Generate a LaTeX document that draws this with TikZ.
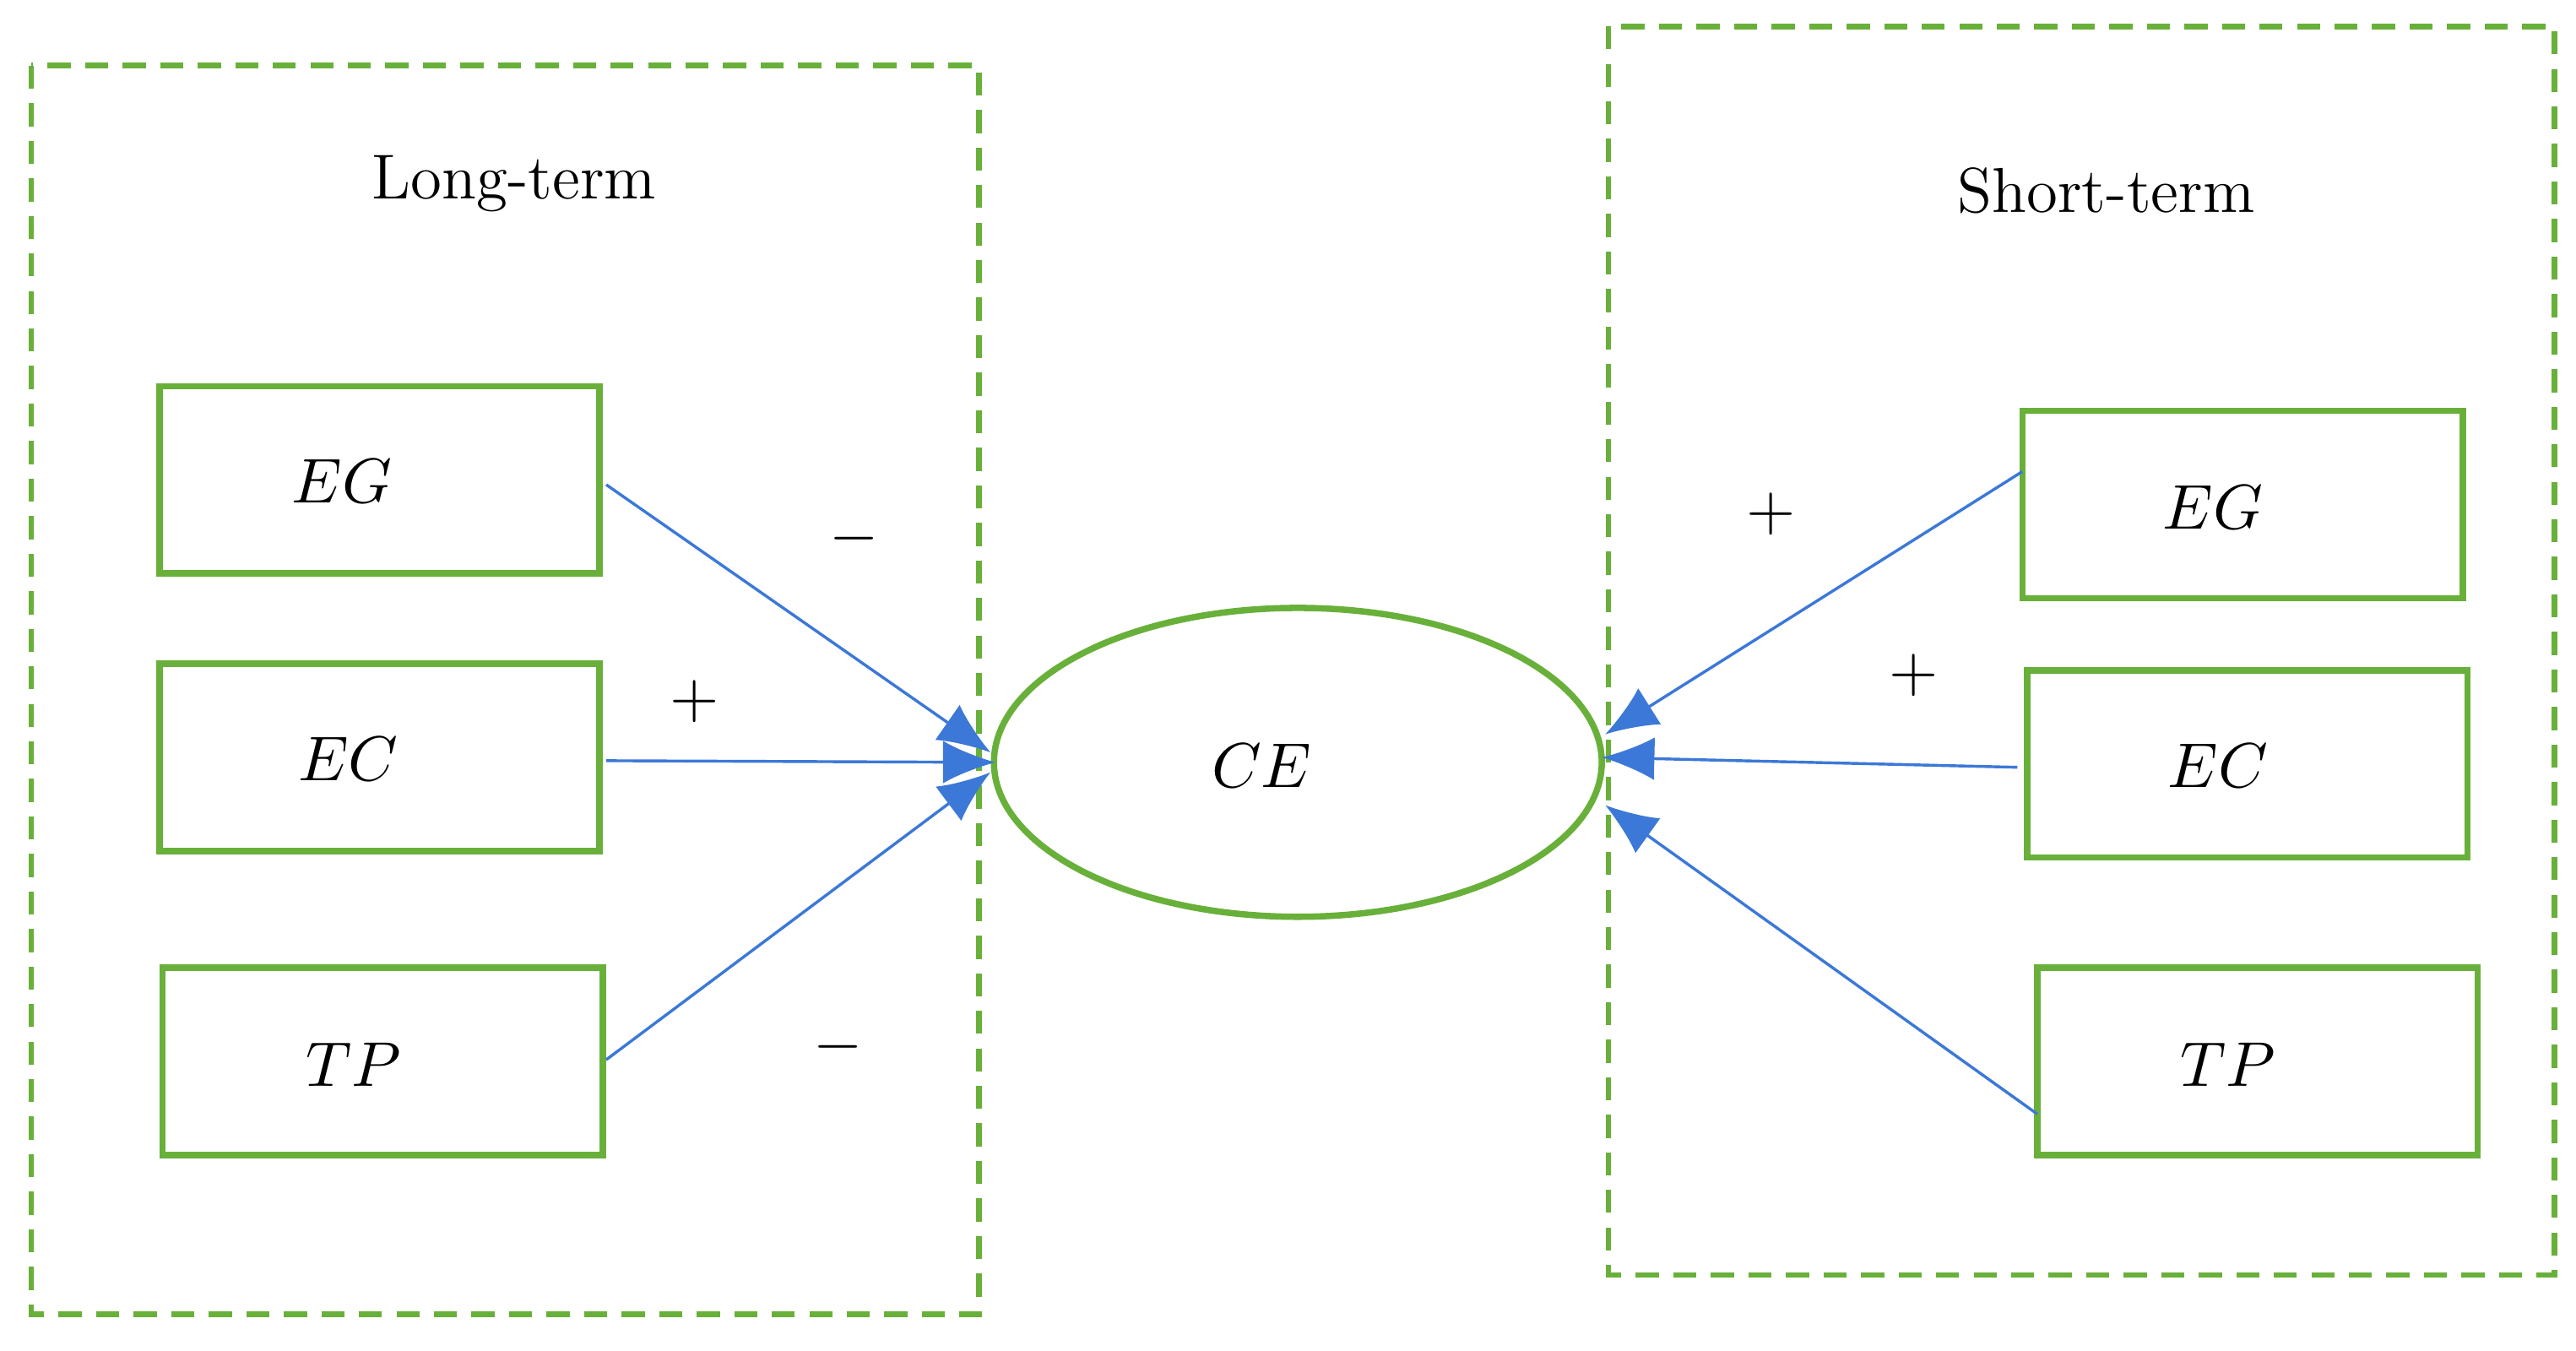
\documentclass[tikz,border=0pt]{standalone}
\usetikzlibrary{arrows.meta,shapes.geometric}
\begin{document}
\begin{tikzpicture}[x=0.1mm,y=-0.1mm,
  grn/.style={draw={rgb,255:red,104;green,176;blue,58},line width=1.1pt},
  box/.style={grn,rectangle,minimum width=26.8mm,minimum height=11.4mm},
  dbox/.style={draw={rgb,255:red,104;green,176;blue,58},line width=1.0pt,dash pattern=on 4pt off 2.5pt},
  arr/.style={draw={rgb,255:red,60;green,120;blue,215},line width=0.5pt,-{Latex[length=3.2mm,width=2.6mm]}},
  lab/.style={font=\fontsize{11}{13}\selectfont}]
\useasboundingbox (0,0) rectangle (1568,822);
\draw[dbox] (19,40) rectangle (596,800);
\draw[dbox] (979,16) rectangle (1555,776);
\node[lab] (lt) at (313,112) {Long-term};
\node[lab] (st) at (1282,116) {Short-term};
\node[box] (lEG) at (231,292) {};
\node[box] (lEC) at (231,461) {};
\node[box] (lTP) at (233,646) {};
\node[box] (rEG) at (1365,307) {};
\node[box] (rEC) at (1368,465) {};
\node[box] (rTP) at (1374,646) {};
\node[lab] (tlEG) at (208,293) {$EG$};
\node[lab] (tlEC) at (212,462) {$EC$};
\node[lab] (tlTP) at (215,648) {$TP$};
\node[lab] (trEG) at (1347,309) {$EG$};
\node[lab] (trEC) at (1350,466) {$EC$};
\node[lab] (trTP) at (1356,648) {$TP$};
\node[grn,ellipse,minimum width=37mm,minimum height=18.8mm] (CE) at (790,464) {};
\node[lab] (cet) at (768,466) {$CE$};
\coordinate (a1) at (603,458);
\coordinate (a2) at (606,464);
\coordinate (a3) at (603,470);
\coordinate (b1) at (977,447);
\coordinate (b2) at (975,461);
\coordinate (b3) at (977,490);
\coordinate (s1) at (369,295);
\coordinate (s2) at (369,463);
\coordinate (s3) at (369,645);
\coordinate (t1) at (1231,287);
\coordinate (t2) at (1228,467);
\coordinate (t3) at (1240,678);
\draw[arr] (s1) -- (a1);
\draw[arr] (s2) -- (a2);
\draw[arr] (s3) -- (a3);
\draw[arr] (t1) -- (b1);
\draw[arr] (t2) -- (b2);
\draw[arr] (t3) -- (b3);
\node[lab] (m1) at (520,328) {$-$};
\node[lab] (p1) at (423,427) {$+$};
\node[lab] (m2) at (510,637) {$-$};
\node[lab] (p2) at (1078,313) {$+$};
\node[lab] (p3) at (1165,411) {$+$};
\end{tikzpicture}
\end{document}
